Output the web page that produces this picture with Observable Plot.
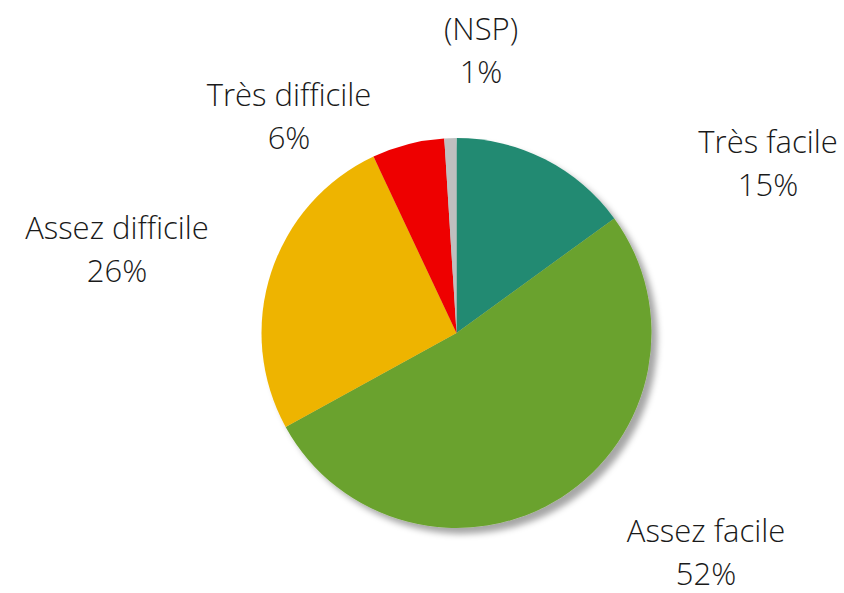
<!DOCTYPE html>
<html>
<head>
<meta charset="utf-8">
<script src="https://cdn.jsdelivr.net/npm/d3@7"></script>
<script src="https://cdn.jsdelivr.net/npm/@observablehq/plot@0.6"></script>
<style>
  html, body { margin: 0; padding: 0; background: #ffffff; }
  #chart { width: 844px; height: 593px; }
</style>
</head>
<body>
<div id="chart"></div>
<script>
// ---- data ----
const categories = ["Très facile", "Assez facile", "Assez difficile", "Très difficile", "(NSP)"];
const values = [15, 52, 26, 6, 1];
const colors = ["#248A72", "#6AA22E", "#EEB400", "#EE0000", "#BFBFBF"];

// ---- layout (label block centres relative to pie centre, in px) ----
const labelOffsets = [
  [311, -173], [249, 216], [-340, -87], [-168, -220], [24, -286]
];
const W = 844, H = 593;
const CX = 456.5, CY = 333, R = 195;

const slices = d3.pie().sort(null).value(d => d.value)(
  categories.map((c, i) => ({category: c, value: values[i], color: colors[i]}))
);

const labels = categories.map((c, i) => ({
  text: `${c}\n${values[i]}%`,
  x: labelOffsets[i][0],
  y: labelOffsets[i][1]
}));

function pieMark(index, scales, values_, dimensions, context) {
  const svgNS = "http://www.w3.org/2000/svg";
  const g = document.createElementNS(svgNS, "g");
  const cx = scales.x(0), cy = scales.y(0);
  const r = scales.x(R) - scales.x(0);
  const defs = document.createElementNS(svgNS, "defs");
  defs.innerHTML = `<filter id="pieShadow" x="-20%" y="-20%" width="140%" height="140%">
      <feDropShadow dx="6" dy="6" stdDeviation="3" flood-color="#000" flood-opacity="0.35"/>
    </filter>`;
  g.appendChild(defs);
  const pg = document.createElementNS(svgNS, "g");
  pg.setAttribute("transform", `translate(${cx},${cy})`);
  pg.setAttribute("filter", "url(#pieShadow)");
  const arc = d3.arc().innerRadius(0).outerRadius(r);
  for (const s of slices) {
    const p = document.createElementNS(svgNS, "path");
    p.setAttribute("d", arc(s));
    p.setAttribute("fill", s.data.color);
    pg.appendChild(p);
  }
  g.appendChild(pg);
  return g;
}

const chart = Plot.plot({
  width: W,
  height: H,
  margin: 0,
  x: {domain: [-CX, W - CX], range: [0, W], axis: null},
  y: {domain: [-CY, H - CY], range: [0, H], axis: null},
  style: {background: "#ffffff", fontFamily: "'Open Sans', sans-serif"},
  marks: [
    pieMark,
    Plot.text(labels, {
      x: "x", y: "y", text: "text",
      fontSize: 31, fontWeight: 300, fill: "#1a1a1a",
      lineHeight: 1.4, textAnchor: "middle", lineAnchor: "middle"
    })
  ]
});
document.getElementById("chart").appendChild(chart);
</script>
</body>
</html>
